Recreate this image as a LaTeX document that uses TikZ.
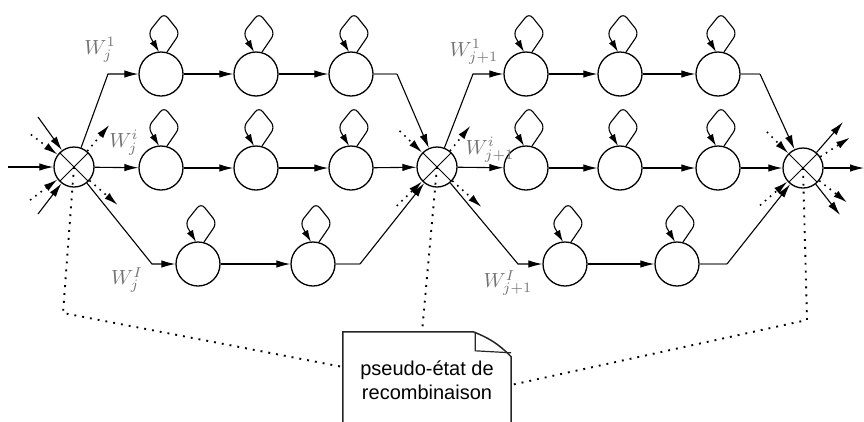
\documentclass[tikz,border=0pt]{standalone}
\usepackage{fontspec}
\newfontfamily\notefont{Liberation Sans}
\usetikzlibrary{arrows.meta,calc}
\begin{document}
\begin{tikzpicture}[x=1pt,y=-1pt,
  state/.style={circle,draw,line width=1.3pt,minimum size=44pt,inner sep=0pt},
  xnode/.style={circle,draw,line width=1.3pt,minimum size=40pt,inner sep=0pt,
     path picture={\draw[line width=1pt] (path picture bounding box.north west) -- (path picture bounding box.south east)
        (path picture bounding box.north east) -- (path picture bounding box.south west);}},
  tipa/.style={-{Latex[length=14pt,width=7.5pt]}},
  arr/.style={line width=1.1pt, tipa},
  tail/.style={line width=1.4pt, black!50},
  dots/.style={line width=1.6pt, dash pattern=on 1.6pt off 5pt, tipa},
  link/.style={line width=1.9pt, dash pattern=on 1.9pt off 6pt},
  lab/.style={text=black!55, scale=2.05, inner sep=0pt},
  loopy/.style={line width=1.1pt, rounded corners=6pt, -{Latex[length=12pt,width=7pt]}},
]
\useasboundingbox (0,0) rectangle (864,421);
\clip (0,0) rectangle (864,421);

% recombination pseudo-states
\node[xnode] (L) at (74,167) {};
\node[xnode] (M) at (437,167) {};
\node[xnode] (R) at (803,168) {};

% left word models
\node[state] (A1) at (161,74) {};
\node[state] (A2) at (256,74) {};
\node[state] (A3) at (351,74) {};
\node[state] (B1) at (161,168) {};
\node[state] (B2) at (256,168) {};
\node[state] (B3) at (351,168) {};
\node[state] (C1) at (198,264) {};
\node[state] (C2) at (313,264) {};
% right word models
\node[state] (D1) at (526,74) {};
\node[state] (D2) at (620,74) {};
\node[state] (D3) at (718,74) {};
\node[state] (E1) at (526,168) {};
\node[state] (E2) at (620,168) {};
\node[state] (E3) at (718,168) {};
\node[state] (F1) at (565,264) {};
\node[state] (F2) at (677,264) {};

% self loops
\foreach \n in {A1,A2,A3,B1,B2,B3,C1,C2,D1,D2,D3,E1,E2,E3,F1,F2}
  \draw[loopy] ($(\n.center)+(6,-22)$) -- ++(13,-19) -- ++(-16,-20) -- ++(-16,20) -- ($(\n.center)+(-2,-22)$);

% bend points and free ends
\coordinate (inL) at (8,167);
\coordinate (inLa) at (38,117);
\coordinate (inLb) at (38,214);
\coordinate (bL1) at (108,74);
\coordinate (bL3) at (152,264);
\coordinate (bM1) at (397,74);
\coordinate (bM3) at (360,264);
\coordinate (bM2) at (473,74);
\coordinate (bM4) at (518,264);
\coordinate (bR1) at (760,74);
\coordinate (bR3) at (727,264);
\coordinate (oRa) at (843,122);
\coordinate (oR) at (864,168);
\coordinate (oRb) at (840,215);

% left pseudo-state
\draw[arr] (inL) -- (L);
\draw[arr] (inLa) -- (L);
\draw[arr] (inLb) -- (L);
\draw[arr] (L) -- (bL1) -- (A1);
\draw[arr] (L) -- (B1);
\draw[arr] (L) -- (bL3) -- (C1);
% left rows
\draw[arr] (A1) -- (A2);
\draw[arr] (A2) -- (A3);
\draw[arr] (B1) -- (B2);
\draw[arr] (B2) -- (B3);
\draw[arr] (C1) -- (C2);
\draw[tail] (A3) -- (bM1);
\draw[arr] (bM1) -- (M);
\draw[arr] (B3) -- (M);
\draw[tail] (C2) -- (bM3);
\draw[arr] (bM3) -- (M);
% middle pseudo-state out
\draw[arr] (M) -- (bM2) -- (D1);
\draw[arr] (M) -- (E1);
\draw[arr] (M) -- (bM4) -- (F1);
% right rows
\draw[arr] (D1) -- (D2);
\draw[arr] (D2) -- (D3);
\draw[arr] (E1) -- (E2);
\draw[arr] (E2) -- (E3);
\draw[arr] (F1) -- (F2);
\draw[tail] (D3) -- (bR1);
\draw[arr] (bR1) -- (R);
\draw[arr] (E3) -- (R);
\draw[tail] (F2) -- (bR3);
\draw[arr] (bR3) -- (R);
\draw[arr] (R) -- (oRa);
\draw[arr] (R) -- (oR);
\draw[arr] (R) -- (oRb);

% dotted stubs
\draw[dots] ($(L.center)+(143:54pt)$) -- (L.143);
\draw[dots] ($(L.center)+(217:55pt)$) -- (L.217);
\draw[dots] (L.50) -- ($(L.center)+(50:55pt)$);
\draw[dots] (L.-41) -- ($(L.center)+(-41:58pt)$);
\draw[dots] ($(M.center)+(136:52pt)$) -- (M.136);
\draw[dots] ($(M.center)+(224:56pt)$) -- (M.224);
\draw[dots] (M.51) -- ($(M.center)+(51:53pt)$);
\draw[dots] (M.-42) -- ($(M.center)+(-42:60pt)$);
\draw[dots] ($(R.center)+(135:51pt)$) -- (R.135);
\draw[dots] ($(R.center)+(221:57pt)$) -- (R.221);
\draw[dots] (R.33) -- ($(R.center)+(33:56pt)$);
\draw[dots] (R.-38) -- ($(R.center)+(-38:56pt)$);

% labels
\node[lab] (w1) at (100,50) {$W_j^1$};
\node[lab] (w2) at (124,143) {$W_j^i$};
\node[lab] (w3) at (127,280) {$W_j^I$};
\node[lab] (w4) at (474,52) {$W_{j+1}^1$};
\node[lab] (w5) at (490,150) {$W_{j+1}^i$};
\node[lab] (w6) at (508,283) {$W_{j+1}^I$};

% note
\node[font=\notefont\fontsize{20}{24}\selectfont, align=center, minimum width=168pt,
      minimum height=96pt, inner sep=0pt] (note) at (427,380) {pseudo-état de\\recombinaison};
\draw[line width=1.5pt, black!85] ($(note.south west)+(0,30)$) -- (note.north west)
   -- ($(note.north east)+(-38,0)$) to[bend left=12] ($(note.north east)+(0,25)$)
   -- ($(note.south east)+(0,30)$);
\draw[line width=1.2pt, black!85] ($(note.north east)+(-36,0)$) -- ++(0,19) -- ($(note.north east)+(0,21)$);

% dotted links to note
\coordinate (kL) at (63,313);
\coordinate (nL) at (343,367);
\coordinate (nM) at (422,332);
\coordinate (kR) at (807,320);
\coordinate (nR) at (511,385);
\draw[link] (L.center) -- (kL) -- (nL);
\draw[link] (M.center) -- (nM);
\draw[link] (R.center) -- (kR) -- (nR);
\end{tikzpicture}
\end{document}
